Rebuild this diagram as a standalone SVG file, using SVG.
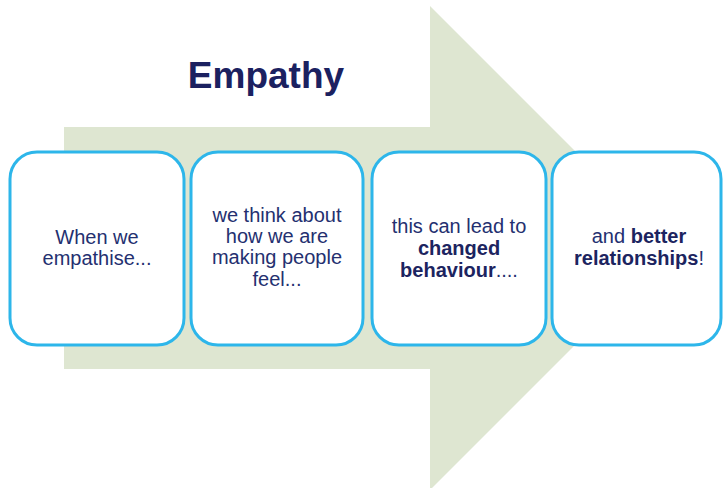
<svg xmlns="http://www.w3.org/2000/svg" width="723" height="488" viewBox="0 0 723 488">
<style>
.box{fill:#ffffff;stroke:#2db6ea;stroke-width:3}
.t{font-family:"Liberation Sans",Arial,sans-serif;font-size:20px;fill:#243070;text-anchor:middle}
.b{font-weight:bold;fill:#1c2460}
.title{font-family:"Liberation Sans",Arial,sans-serif;font-size:37px;font-weight:bold;fill:#1b2160;text-anchor:middle}
</style>
<rect width="723" height="488" fill="#ffffff"/>
<g id="arrow">
<polygon points="64,127 430,127 430,6 672,248 430,490 430,369 64,369" fill="#dee6d1"/>
</g>
<g id="title"><text class="title" x="266" y="88">Empathy</text></g>
<g id="connectors"></g>
<g id="node1">
<rect class="box" x="10" y="152" width="174" height="193" rx="27"/>
<text class="t" x="97" y="244">When we</text>
<text class="t" x="97" y="265">empathise...</text>
</g>
<g id="node2">
<rect class="box" x="191" y="152" width="172" height="193" rx="27"/>
<text class="t" x="277" y="222">we think about</text>
<text class="t" x="277" y="243">how we are</text>
<text class="t" x="277" y="264">making people</text>
<text class="t" x="277" y="286">feel...</text>
</g>
<g id="node3">
<rect class="box" x="372" y="152" width="174" height="193" rx="27"/>
<text class="t" x="459" y="233">this can lead to</text>
<text class="t b" x="459" y="255">changed</text>
<text class="t" x="459" y="277"><tspan class="b">behaviour</tspan>....</text>
</g>
<g id="node4">
<rect class="box" x="552" y="152" width="169" height="193" rx="27"/>
<text class="t" x="639" y="243">and <tspan class="b">better</tspan></text>
<text class="t" x="639" y="265"><tspan class="b">relationships</tspan>!</text>
</g>
</svg>
